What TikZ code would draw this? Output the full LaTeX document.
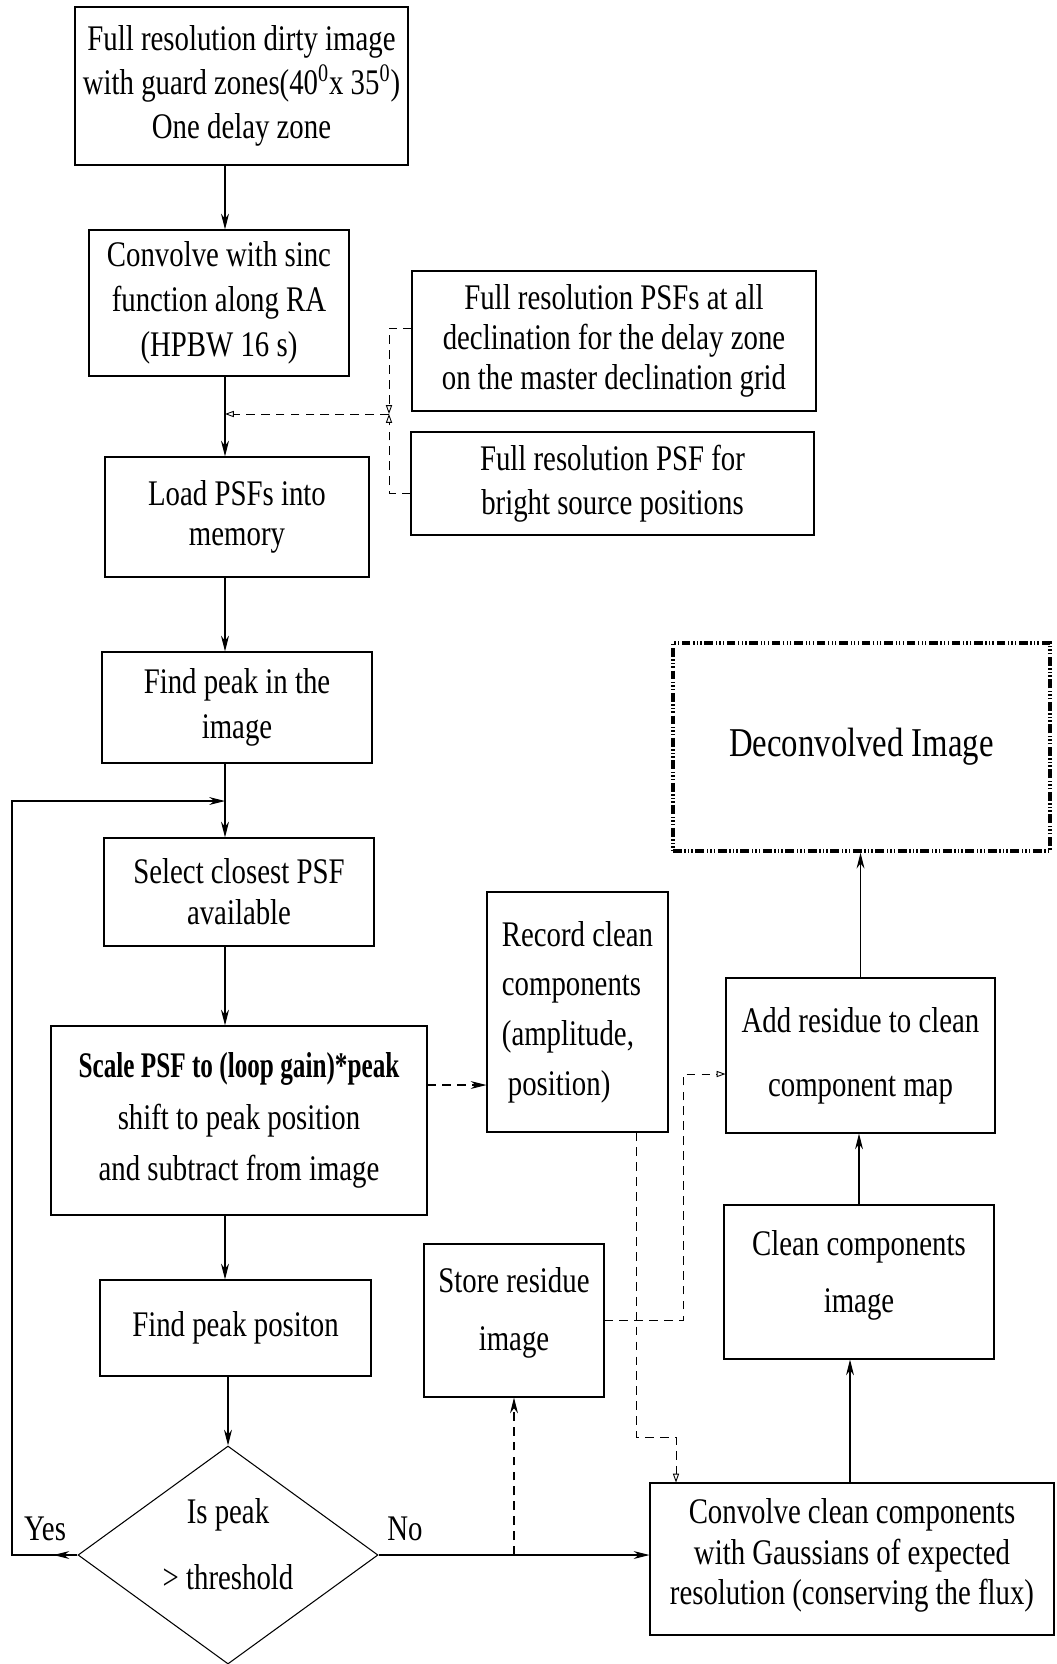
\documentclass[tikz,border=0pt]{standalone}
\usepackage{fontspec}
\setmainfont{Liberation Serif}[FakeStretch=0.8]
\newfontfamily\narrowbf{Liberation Serif Bold}[FakeStretch=0.7]
\usetikzlibrary{arrows.meta,shapes.geometric}
\newcommand\fs[1]{\fontsize{20.5}{#1}\selectfont}
\tikzset{box/.style={draw, line width=0.6pt, align=center, inner sep=0pt},
         sz/.style 2 args={minimum width=#1*0.02cm, minimum height=#2*0.02cm},
         arr/.style={line width=0.6pt, -{Stealth[length=9pt,width=4.5pt]}},
         darr/.style={line width=0.6pt, dash pattern=on 5pt off 3.5pt, -{Stealth[length=9pt,width=4.5pt]}},
         oarr/.style={line width=0.5pt, dash pattern=on 5pt off 3.5pt, -{Triangle[open,length=5pt,width=3.5pt]}}}

\begin{document}
\begin{tikzpicture}[x=0.02cm,y=-0.02cm]

\useasboundingbox (0,0) rectangle (1057,1664);

% main column
\node[box,sz={333}{158},font=\fs{25}] (dirty) at (241.5,86) {Full resolution dirty image\\with guard zones(40\textsuperscript{0}x 35\textsuperscript{0})\\One delay zone};
\node[box,sz={260}{146},font=\fs{25.5}] (sinc) at (219,303) {Convolve with sinc\\function along RA\\(HPBW 16 s)};
\node[box,sz={264}{120},font=\fs{22.7}] (load) at (237,517) {Load PSFs into\\memory};
\node[box,sz={270}{111},font=\fs{25.5}] (findimg) at (237,707.5) {Find peak in the\\image};
\node[box,sz={270}{108},font=\fs{23.2}] (select) at (239,892) {Select closest PSF\\available};
\node[box,sz={376}{189},font=\fs{29.5}] (scale) at (239,1120.5) {{\narrowbf Scale PSF to (loop gain)*peak}\\shift to peak position\\and subtract from image};
\node[box,sz={271}{96},font=\fs{25}] (findpos) at (235.5,1328) {Find peak positon};
\node[draw,diamond,line width=0.6pt,inner sep=0pt,sz={300}{218}] (thresh) at (228,1555) {};
\node[align=center,font=\fs{37.4}] (threshtxt) at (228,1544) {Is peak\\> threshold};

% PSF inputs
\node[box,sz={404}{140},font=\fs{22.7}] (allpsf) at (614,341) {Full resolution PSFs at all\\declination for the delay zone\\on the master declination grid};
\node[box,sz={403}{103},font=\fs{25}] (brightpsf) at (612.5,483.5) {Full resolution PSF for\\bright source positions};

% right part
\node[box,sz={181}{240},font=\fs{28.3},align=left] (record) at (577.5,1012) {Record clean\\components\\(amplitude,\\\,position)};
\node[box,sz={180}{153},font=\fs{32.9},text depth=0.46cm] (store) at (514,1320.5) {Store residue\\image};
\node[box,sz={404}{152},font=\fs{23.2},text depth=0.3cm] (convclean) at (852,1559) {Convolve clean components\\with Gaussians of expected\\resolution (conserving the flux)};
\node[box,sz={270}{154},font=\fs{32.9},text depth=0.42cm] (cleanimg) at (859,1282) {Clean components\\image};
\node[box,sz={269}{155},font=\fs{36.3}] (addres) at (860.5,1055.5) {Add residue to clean\\component map};
\node[draw,line width=2pt,dash pattern=on 5pt off 1.5pt on 0.8pt off 1.2pt on 0.8pt off 1.2pt on 0.8pt off 1.5pt,sz={377}{208},font=\fontsize{23.3}{28}\selectfont] (decon) at (861.5,747) {Deconvolved Image};

\node[font=\fs{25}] (yes) at (45,1529) {Yes};
\node[font=\fs{25}] (no) at (405,1529) {No};

\coordinate (col) at (225,0);
\coordinate (jn) at (389,414);
\coordinate (lp) at (12,801);
\coordinate (s1) at ([yshift=0.71cm]scale.east);
\coordinate (r1) at ([xshift=1.17cm]record.south);
\coordinate (r2) at (676,1437);
\coordinate (s2) at (683,1074);

\draw[arr] (dirty.south -| col) -- (sinc.north -| col);
\draw[arr] (sinc.south -| col) -- (load.north -| col);
\draw[arr] (load.south -| col) -- (findimg.north -| col);
\draw[arr] (findimg.south -| col) -- (select.north -| col);
\draw[arr] (select.south -| col) -- (scale.north -| col);
\draw[arr] (scale.south -| col) -- (findpos.north -| col);
\draw[arr] (findpos.south -| thresh.north) -- (thresh.north);

\draw[oarr] ([yshift=0.26cm]allpsf.west) -| (jn);
\draw[oarr] ([yshift=-0.2cm]brightpsf.west) -| (jn);
\draw[oarr] (jn) -- (jn -| col);

% loop back
\draw[arr] (thresh.west) -| (lp) -- (lp -| col);
\draw[arr] (thresh.west) -- ++(-24,0);
\draw[arr] (thresh.east) -- (thresh.east -| convclean.west);
\draw[darr] (store.south |- thresh.east) -- (store.south);

\draw[darr] (s1) -- (s1 -| record.west);
\draw[oarr] (r1) |- (r2) -- (r2 |- convclean.north);
\draw[oarr] (store.east) -| (s2) -- (s2 -| addres.west);

\draw[arr] ([xshift=-0.18cm]cleanimg.south |- convclean.north) -- ([xshift=-0.18cm]cleanimg.south);
\draw[arr] (cleanimg.north) -- (cleanimg.north |- addres.south);
\draw[arr] (addres.north) -- (addres.north |- decon.south);

\end{tikzpicture}
\end{document}
